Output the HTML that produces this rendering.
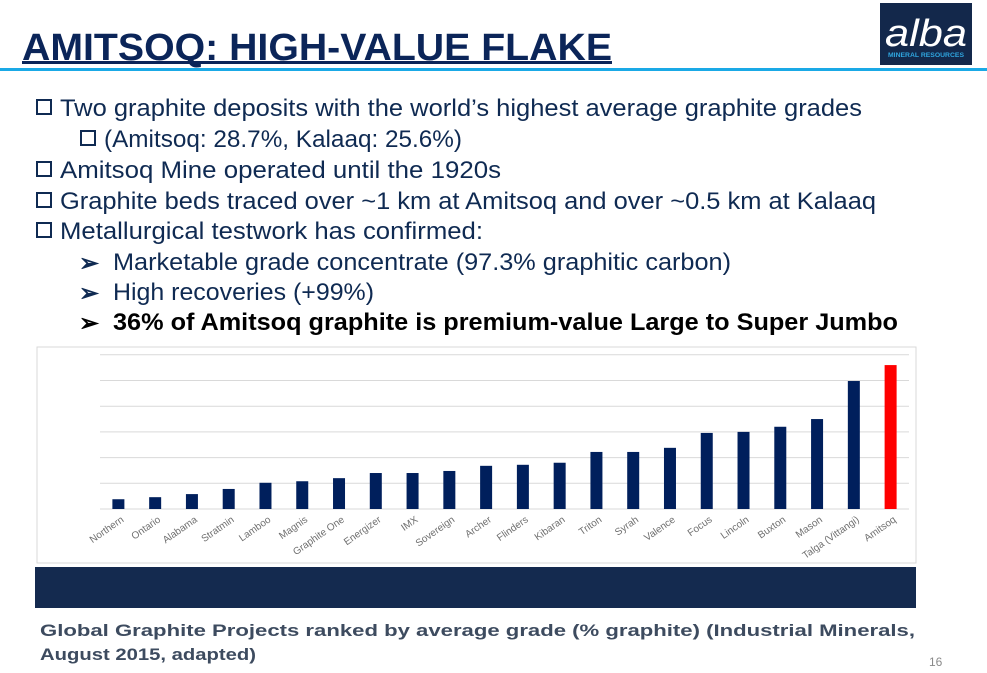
<!DOCTYPE html>
<html><head><meta charset="utf-8"><style>
body{margin:0;width:987px;height:673px;overflow:hidden;background:#fff;}
svg{display:block;font-family:"Liberation Sans",sans-serif;}
</style></head><body>
<svg id="s" width="987" height="673" viewBox="0 0 987 673" xmlns="http://www.w3.org/2000/svg">
<g>
<text x="22" y="60" font-size="38" font-weight="bold" fill="#0b2559" textLength="590" lengthAdjust="spacingAndGlyphs">AMITSOQ: HIGH-VALUE FLAKE</text>
<rect x="22" y="61" width="590" height="3" fill="#0b2559"/>
</g>
<rect x="0" y="68" width="987" height="3" fill="#1aa9e6"/>
<g>
<rect x="880" y="3" width="92" height="62" fill="#13284b"/>
<text x="926" y="46" font-size="38" font-style="italic" fill="#fff" text-anchor="middle" textLength="82" lengthAdjust="spacingAndGlyphs">alba</text>
<text x="926" y="57" font-size="6" font-weight="bold" fill="#2fa6e0" text-anchor="middle" textLength="76" lengthAdjust="spacingAndGlyphs">MINERAL RESOURCES</text>
</g>
<g font-size="24" fill="#0f2a52">
<g fill="none" stroke="#0f2a52" stroke-width="2">
<rect x="37" y="100" width="14" height="14"/><rect x="81" y="131" width="14" height="14"/>
<rect x="37" y="162" width="14" height="14"/><rect x="37" y="193" width="14" height="14"/><rect x="37" y="223" width="14" height="14"/>
</g>
<text x="60" y="116" textLength="802" lengthAdjust="spacingAndGlyphs">Two graphite deposits with the world’s highest average graphite grades</text>
<text x="104" y="147" textLength="358" lengthAdjust="spacingAndGlyphs">(Amitsoq: 28.7%, Kalaaq: 25.6%)</text>
<text x="60" y="178" textLength="441" lengthAdjust="spacingAndGlyphs">Amitsoq Mine operated until the 1920s</text>
<text x="60" y="209" textLength="816" lengthAdjust="spacingAndGlyphs">Graphite beds traced over ~1 km at Amitsoq and over ~0.5 km at Kalaaq</text>
<text x="60" y="239" textLength="423" lengthAdjust="spacingAndGlyphs">Metallurgical testwork has confirmed:</text>
<text x="79" y="271" font-size="24" font-weight="bold">➢</text><text x="113" y="270" textLength="618" lengthAdjust="spacingAndGlyphs">Marketable grade concentrate (97.3% graphitic carbon)</text>
<text x="79" y="301" font-size="24" font-weight="bold">➢</text><text x="113" y="300" textLength="261" lengthAdjust="spacingAndGlyphs">High recoveries (+99%)</text>
<text x="79" y="331" font-size="24" font-weight="bold" fill="#000">➢</text><text x="113" y="330" fill="#000" font-weight="bold" textLength="785" lengthAdjust="spacingAndGlyphs">36% of Amitsoq graphite is premium-value Large to Super Jumbo</text>
</g>
<rect x="37" y="347" width="879" height="216" fill="#fff" stroke="#d9d9d9"/>
<g id="grid"></g><g id="bars"></g><g id="labels"></g>
<rect x="35" y="567" width="881" height="41" fill="#142a4f"/>
<g font-weight="bold" font-size="17" fill="#3d4b5f">
<text x="40" y="636" textLength="875" lengthAdjust="spacingAndGlyphs">Global Graphite Projects ranked by average grade (% graphite) (Industrial Minerals,</text>
<text x="40" y="660" textLength="216" lengthAdjust="spacingAndGlyphs">August 2015, adapted)</text>
</g>
<text x="929" y="666" font-size="12" fill="#8a8a8a">16</text>
</svg>
<script>
const categories=["Northern","Ontario","Alabama","Stratmin","Lamboo","Magnis","Graphite One","Energizer","IMX","Sovereign","Archer","Flinders","Kibaran","Triton","Syrah","Valence","Focus","Lincoln","Buxton","Mason","Talga (Vittangi)","Amitsoq"];
const grades=[1.9,2.3,2.9,3.9,5.1,5.4,6.0,7.0,7.0,7.4,8.4,8.6,9.0,11.1,11.1,11.9,14.8,15.0,16.0,17.5,24.9,28.0];
const highlight=["Amitsoq"];
const gridTicks=[0,5,10,15,20,25,30];
const NS="http://www.w3.org/2000/svg";
const x0=100,x1=909,yBase=509,pxPer=25.7/5;
const band=(x1-x0)/categories.length;
const xs=i=>x0+band*(i+0.5);
const ys=v=>yBase-v*pxPer;
function mk(t,a){const e=document.createElementNS(NS,t);for(const k in a)e.setAttribute(k,a[k]);return e;}
const grid=document.getElementById('grid'),bars=document.getElementById('bars'),labels=document.getElementById('labels');
gridTicks.forEach(t=>{
 const l=mk('line',{x1:x0,x2:x1,y1:ys(t),y2:ys(t),stroke:'#d9d9d9','stroke-width':1});
 
 
 grid.appendChild(l);
});
categories.forEach((c,i)=>{
 const r=mk('rect',{x:xs(i)-6,width:12,y:ys(grades[i]),height:grades[i]*pxPer,fill:highlight.includes(c)?'#ff0000':'#001f5c'});
 
 
 bars.appendChild(r);
 const t=mk('text',{x:xs(i)+6,y:yBase+12,'font-size':10,fill:'#6f6f6f','text-anchor':'end',transform:`rotate(-35 ${xs(i)+6} ${yBase+12})`});
 t.textContent=c;
 
 
 labels.appendChild(t);
});
</script>
</body></html>
